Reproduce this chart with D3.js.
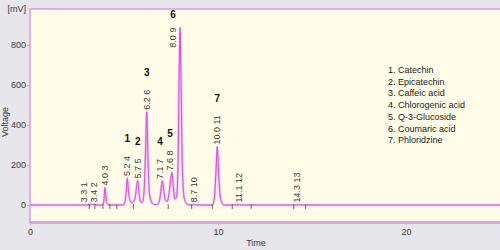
<!DOCTYPE html>
<html>
<head>
<meta charset="utf-8">
<script src="https://cdn.jsdelivr.net/npm/d3@7"></script>
<style>
  body { margin: 0; background: #e7e7eb; }
  text { font-family: Arial, "Liberation Sans", sans-serif; }
</style>
</head>
<body>
<div id="chart"></div>
<script>

const SVG_W = 500;
const SVG_H = 250;

const PLOT_X = 30;
const PLOT_Y = 9;
const PLOT_RIGHT = 500;
const PLOT_BOTTOM = 222.5;

const COLOR_BG = "#e7e7eb";
const COLOR_PLOT = "#fffde8";
const COLOR_FRAME = "#dd9ade";
const COLOR_TRACE = "#e046e0";
const COLOR_TRACE_SOFT = "#f5bcf3";
const COLOR_TEXT = "#3a3a3a";

// -------------------------------------------------
// data

const time_domain = [0, 25];
const volt_domain = [-87.5, 980];

const x_ticks = [0, 10, 20];
const y_ticks = [0, 200, 400, 600, 800];

// detector trace, [min, mV]
const trace = [
  [0, 0], [3.2, 0], [3.3, 4], [3.38, 0], [3.42, 4], [3.5, 0],
  [3.85, 0], [3.93, 20], [3.97, 70], [3.99, 87], [4.02, 60], [4.08, 15], [4.2, 0],
  [4.95, 0], [5.05, 15], [5.12, 70], [5.175, 135], [5.23, 75], [5.33, 20], [5.45, 12],
  [5.58, 30], [5.67, 90], [5.73, 122], [5.79, 70], [5.88, 15], [5.97, 12],
  [6.06, 60], [6.14, 250], [6.21, 466], [6.27, 250], [6.36, 50], [6.48, 12], [6.65, 2],
  [6.8, 4], [6.92, 40], [6.99, 95], [7.04, 120], [7.1, 85], [7.2, 25], [7.3, 18],
  [7.4, 60], [7.5, 140], [7.55, 163], [7.6, 120], [7.7, 30],
  [7.8, 40], [7.88, 250], [7.94, 700], [7.98, 887], [8.03, 650], [8.1, 200], [8.2, 35], [8.35, 5], [8.5, 0],
  [8.65, 0], [8.72, 4], [8.8, 0],
  [9.7, 0], [9.8, 30], [9.9, 180], [9.96, 292], [10.02, 190], [10.12, 40], [10.3, 0],
  [11.05, 0], [11.12, 3], [11.2, 0],
  [14.2, 0], [14.28, 3], [14.36, 0],
  [25, 0]
];

// integration peaks: label text, apex time, apex height
const peak_labels = ["3.3 1", "3.4 2", "4.0 3", "5.2 4", "5.7 5", "6.2 6", "7.1 7",
                     "7.6 8", "8.0 9", "8.7 10", "10.0 11", "11.1 12", "14.3 13"];
const peak_times = [3.3, 3.4, 3.99, 5.175, 5.73, 6.21, 7.04, 7.52, 7.98, 8.73, 9.96, 11.13, 14.2];
const peak_heights = [4, 4, 87, 135, 122, 466, 120, 163, 887, 4, 292, 3, 3];

// baseline markers (min)
const marker_times = [3.15, 3.45, 3.88, 4.25, 4.62, 5.5, 7.35, 8.6, 9.7, 10.76, 11.76, 14.03, 14.66];

// identified compounds -> index into peaks
const compound_ids = ["1", "2", "3", "4", "5", "6", "7"];
const compound_peak = [3, 4, 5, 6, 7, 8, 10];
const compound_names = ["Catechin", "Epicatechin", "Caffeic acid", "Chlorogenic acid",
                        "Q-3-Glucoside", "Coumaric acid", "Phloridzine"];

// -------------------------------------------------

let svg = d3.select("#chart")
            .append("svg")
                .attr("width", SVG_W)
                .attr("height", SVG_H);

svg.append("rect")
        .attr("width", SVG_W)
        .attr("height", SVG_H)
        .attr("fill", COLOR_BG)

let scaleX = d3.scaleLinear()
                .domain(time_domain)
                .range([PLOT_X, PLOT_RIGHT])

let scaleY = d3.scaleLinear()
                .domain(volt_domain)
                .range([PLOT_BOTTOM, PLOT_Y])

svg.append("rect")
        .attr("x", PLOT_X)
        .attr("y", PLOT_Y)
        .attr("width", PLOT_RIGHT - PLOT_X)
        .attr("height", PLOT_BOTTOM - PLOT_Y)
        .attr("fill", COLOR_PLOT)

// ---------------------------------------------------------------------------------
// axes

let axisY = d3.axisLeft(scaleY)
                .tickValues(y_ticks)
                .tickSize(3)
                .tickPadding(1)

let gY = svg.append("g")
        .attr("transform", "translate(" + PLOT_X + ",0)")
        .call(axisY)
gY.select(".domain").remove()
gY.selectAll("line").attr("stroke", COLOR_FRAME)
gY.selectAll("text")
        .attr("font-size", 9)
        .attr("fill", COLOR_TEXT)

let axisX = d3.axisBottom(scaleX)
                .tickValues(x_ticks)
                .tickSize(3)
                .tickPadding(3.5)

let gX = svg.append("g")
        .attr("transform", "translate(0," + PLOT_BOTTOM + ")")
        .call(axisX)
gX.select(".domain").remove()
gX.selectAll("line").attr("stroke", COLOR_FRAME)
gX.selectAll("text")
        .attr("font-size", 9)
        .attr("fill", COLOR_TEXT)

// frame
svg.append("path")
        .attr("d", "M" + PLOT_RIGHT + "," + PLOT_Y + "H" + PLOT_X + "V" + PLOT_BOTTOM + "H" + PLOT_RIGHT)
        .attr("fill", "none")
        .attr("stroke", COLOR_FRAME)
        .attr("stroke-width", 1.5)

svg.append("line")
        .attr("x1", PLOT_X)
        .attr("x2", PLOT_RIGHT)
        .attr("y1", PLOT_BOTTOM)
        .attr("y2", PLOT_BOTTOM)
        .attr("stroke", COLOR_FRAME)
        .attr("stroke-width", 2.5)

svg.append("text")
        .attr("x", 26)
        .attr("y", 12)
        .attr("text-anchor", "end")
        .attr("font-size", 9)
        .attr("fill", COLOR_TEXT)
        .text("[mV]")

svg.append("text")
        .attr("transform", "translate(8," + 122 + ") rotate(-90)")
        .attr("text-anchor", "middle")
        .attr("font-size", 9)
        .attr("fill", COLOR_TEXT)
        .text("Voltage")

svg.append("text")
        .attr("x", 256)
        .attr("y", 246)
        .attr("text-anchor", "middle")
        .attr("font-size", 9)
        .attr("fill", COLOR_TEXT)
        .text("Time")

// ---------------------------------------------------------------------------------
// trace

let line_trace = d3.line()
                    .x(function(d) { return scaleX(d[0]); })
                    .y(function(d) { return scaleY(d[1]); })
                    .curve(d3.curveMonotoneX)

svg.append("path")
        .attr("d", line_trace(trace))
        .attr("fill", "none")
        .attr("stroke", COLOR_TRACE_SOFT)
        .attr("stroke-width", 2.4)

svg.append("path")
        .attr("d", line_trace(trace))
        .attr("fill", "none")
        .attr("stroke", COLOR_TRACE)
        .attr("stroke-width", 1)

svg.selectAll(".marker")
        .data(marker_times)
        .enter()
        .append("line")
            .attr("x1", function(d) { return scaleX(d); })
            .attr("x2", function(d) { return scaleX(d); })
            .attr("y1", scaleY(0) - 1)
            .attr("y2", scaleY(0) + 4)
            .attr("stroke", "#666")
            .attr("stroke-width", 1)

// ---------------------------------------------------------------------------------
// peak labels

let label_x = peak_times.map(function(t) { return scaleX(t); });
for (let i = label_x.length - 2; i >= 0; i--) {
    if (label_x[i + 1] - label_x[i] < 9) label_x[i] = label_x[i + 1] - 10;
}

let label_top = [];
let number_y = [];

peak_labels.forEach(function(s, i) {
    let py = scaleY(peak_heights[i]);
    let t = svg.append("text")
            .attr("font-size", 9)
            .attr("fill", COLOR_TEXT)
            .attr("dy", "0.35em")
            .text(s);
    let len = t.node().getComputedTextLength();
    if (py - 2 - len - 16 < PLOT_Y) {
        // no room above the apex: set beside it, hanging down
        let lx = label_x[i] - 7;
        label_x[i] = lx;
        t.attr("text-anchor", "end")
         .attr("transform", "translate(" + lx + "," + py + ") rotate(-90)");
        number_y[i] = py - 10;
    } else {
        t.attr("text-anchor", "start")
         .attr("transform", "translate(" + label_x[i] + "," + (py - 2) + ") rotate(-90)");
        number_y[i] = py - 2 - len - 13.5;
    }
});

compound_ids.forEach(function(s, k) {
    let i = compound_peak[k];
    svg.append("text")
            .attr("x", label_x[i])
            .attr("y", number_y[i])
            .attr("text-anchor", "middle")
            .attr("font-size", 10)
            .attr("font-weight", "bold")
            .attr("fill", "#111")
            .text(s)
});

// ---------------------------------------------------------------------------------
// legend

compound_names.forEach(function(s, k) {
    svg.append("text")
            .attr("x", 388)
            .attr("y", 73 + k * 11.7)
            .attr("font-size", 9)
            .attr("fill", "#222")
            .text(compound_ids[k] + ". " + s)
});

</script>
</body>
</html>
